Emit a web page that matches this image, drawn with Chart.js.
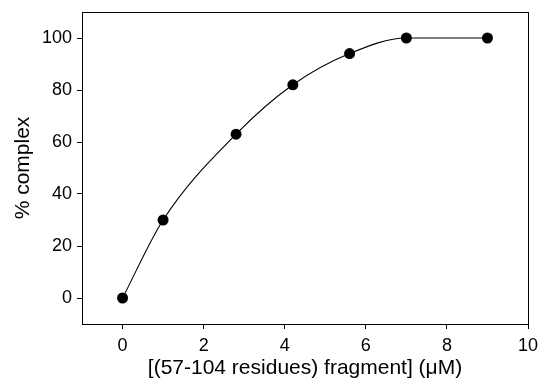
<!DOCTYPE html>
<html>
<head>
<meta charset="utf-8">
<script src="https://cdn.jsdelivr.net/npm/chart.js@4/dist/chart.umd.min.js"></script>
<style>
  html, body { margin: 0; padding: 0; background: #fff; }
  #wrap { width: 539px; height: 386px; position: relative; }
</style>
</head>
<body>
<div id="wrap"><canvas id="c"></canvas></div>
<script>
const xValues = [0, 1, 2.8, 4.2, 5.6, 7, 9];
const complexPct = [0, 30, 63, 82, 94, 100, 100];
const xTicks = [0, 2, 4, 6, 8, 10];
const yTicks = [0, 20, 40, 60, 80, 100];
const xTitle = '[(57-104 residues) fragment] (\u03bcM)';
const yTitle = '% complex';

const points = xValues.map((x, i) => ({ x: x, y: complexPct[i] }));
const FONT = '"Liberation Sans", Arial, Helvetica, sans-serif';

const frame = {
  id: 'frame',
  afterDatasetsDraw(chart) {
    const a = chart.chartArea, ctx = chart.ctx;
    ctx.save();
    ctx.strokeStyle = '#000';
    ctx.lineWidth = 1;
    ctx.strokeRect(Math.round(a.left) + 0.5, Math.round(a.top) + 0.5,
      Math.round(a.right - a.left), Math.round(a.bottom - a.top));
    ctx.restore();
  }
};

new Chart(document.getElementById('c'), {
  type: 'scatter',
  data: {
    datasets: [{
      data: points,
      showLine: true,
      cubicInterpolationMode: 'monotone',
      borderColor: '#000',
      borderWidth: 1.1,
      backgroundColor: '#000',
      pointBackgroundColor: '#000',
      pointBorderColor: '#000',
      pointRadius: 5.5,
      pointBorderWidth: 0,
      clip: false
    }]
  },
  options: {
    responsive: true,
    maintainAspectRatio: false,
    animation: false,
    devicePixelRatio: 1,
    layout: { padding: { top: 12, right: 11, left: 0, bottom: 0 } },
    plugins: { legend: { display: false }, tooltip: { enabled: false } },
    scales: {
      x: {
        type: 'linear',
        min: -1, max: 10,
        afterBuildTicks: (s) => { s.ticks = xTicks.map(v => ({ value: v })); },
        afterFit: (s) => { s.height = 62; s.paddingLeft = 0; s.paddingRight = 0; },
        border: { display: true, color: '#000', width: 1 },
        grid: { drawOnChartArea: false, drawTicks: true, tickLength: 5, color: '#000', tickColor: '#000', tickWidth: 1 },
        ticks: { color: '#000', font: { family: FONT, size: 18 }, padding: 6, maxRotation: 0 },
        title: { display: true, text: xTitle, color: '#000', font: { family: FONT, size: 21 }, padding: { top: 0, bottom: 5 } }
      },
      y: {
        type: 'linear',
        min: -10, max: 110,
        afterBuildTicks: (s) => { s.ticks = yTicks.map(v => ({ value: v })); },
        afterFit: (s) => { s.width = 82; s.paddingTop = 0; s.paddingBottom = 0; },
        border: { display: true, color: '#000', width: 1 },
        grid: { drawOnChartArea: false, drawTicks: true, tickLength: 5, color: '#000', tickColor: '#000', tickWidth: 1 },
        ticks: { color: '#000', font: { family: FONT, size: 18 }, padding: 5 },
        title: { display: true, text: yTitle, color: '#000', font: { family: FONT, size: 21 }, padding: { top: 11, bottom: 0 } }
      }
    }
  },
  plugins: [frame]
});
</script>
</body>
</html>
